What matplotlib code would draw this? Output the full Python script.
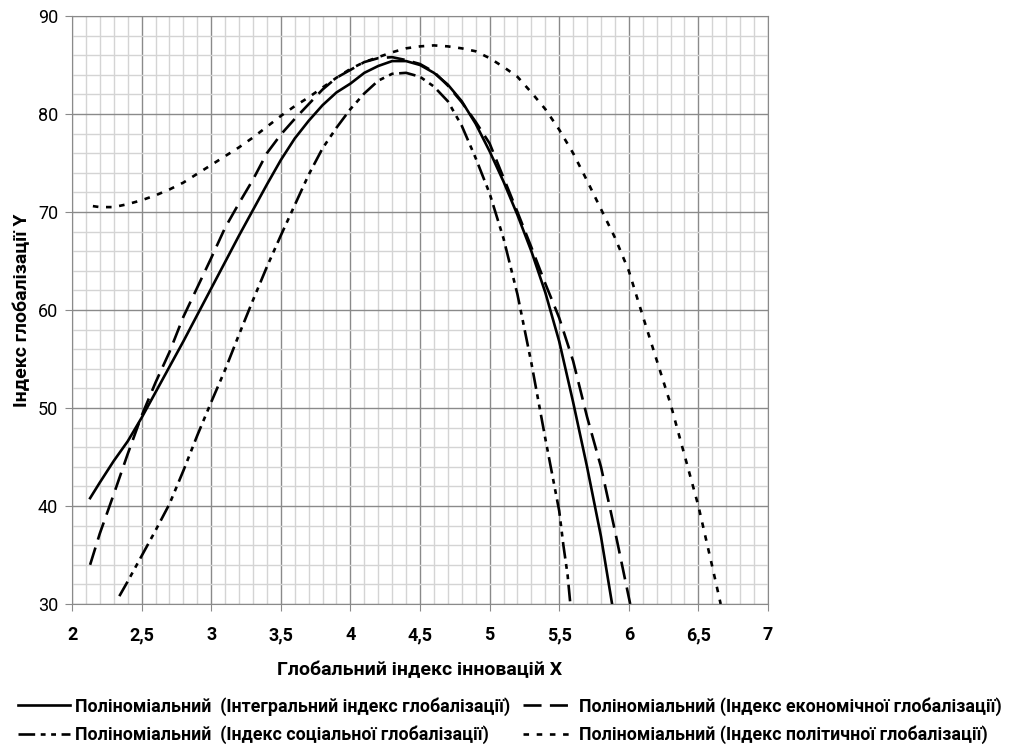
import matplotlib
matplotlib.use('Agg')
import matplotlib.pyplot as plt
from matplotlib.ticker import MultipleLocator, FixedLocator, FixedFormatter

plt.rcParams['font.family'] = ['Roboto', 'DejaVu Sans']
plt.rcParams['lines.scale_dashes'] = False

# trend curves
x_int = [2.13, 2.2, 2.3, 2.4, 2.5, 2.6, 2.7, 2.8, 2.9, 3.0, 3.1, 3.2, 3.3, 3.4, 3.5,
         3.6, 3.7, 3.8, 3.9, 4.0, 4.1, 4.2, 4.3, 4.4, 4.5, 4.6, 4.7, 4.8, 4.9, 5.0,
         5.1, 5.2, 5.3, 5.4, 5.5, 5.6, 5.7, 5.8, 5.88]
y_int = [40.8, 42.4, 44.6, 46.6, 49.0, 51.6, 54.2, 56.8, 59.5, 62.2, 64.9, 67.6, 70.2, 72.8, 75.3,
         77.5, 79.3, 80.9, 82.2, 83.1, 84.2, 84.9, 85.4, 85.4, 85.0, 84.2, 83.0, 81.3, 79.0, 76.2,
         73.1, 69.7, 66.0, 61.8, 56.8, 50.6, 44.0, 36.9, 30.0]

x_eco = [2.13, 2.2, 2.3, 2.4, 2.5, 2.6, 2.7, 2.8, 2.9, 3.0, 3.1, 3.2, 3.3, 3.4, 3.5,
         3.6, 3.7, 3.8, 3.9, 4.0, 4.1, 4.2, 4.3, 4.4, 4.5, 4.6, 4.7, 4.8, 4.9, 5.0,
         5.1, 5.2, 5.3, 5.4, 5.5, 5.6, 5.7, 5.8, 5.9, 6.01]
y_eco = [34.0, 37.2, 41.2, 45.3, 49.2, 52.6, 55.7, 59.3, 62.3, 65.3, 68.4, 70.9, 73.3, 76.0, 77.9,
         79.5, 81.0, 82.5, 83.7, 84.5, 85.3, 85.7, 85.8, 85.5, 85.1, 84.3, 82.9, 81.2, 79.2, 77.0,
         73.5, 70.0, 66.4, 62.7, 59.2, 54.8, 49.1, 44.0, 37.5, 30.0]

x_soc = [2.34, 2.4, 2.5, 2.6, 2.7, 2.8, 2.9, 3.0, 3.1, 3.2, 3.3, 3.4, 3.5, 3.6, 3.7,
         3.8, 3.9, 4.0, 4.1, 4.2, 4.3, 4.4, 4.5, 4.6, 4.7, 4.8, 4.9, 5.0, 5.1, 5.2,
         5.3, 5.4, 5.5, 5.53, 5.56, 5.58]
y_soc = [30.8, 32.3, 34.9, 37.5, 40.2, 43.6, 47.2, 50.6, 53.9, 57.5, 61.0, 64.4, 67.6, 70.7, 73.8,
         76.5, 78.6, 80.5, 82.1, 83.4, 84.1, 84.2, 83.8, 82.8, 81.3, 78.8, 75.5, 71.9, 67.3, 61.6,
         54.6, 46.9, 39.5, 36.0, 33.0, 30.0]

x_pol = [2.15, 2.2, 2.3, 2.4, 2.5, 2.6, 2.7, 2.8, 2.9, 3.0, 3.1, 3.2, 3.3, 3.4, 3.5,
         3.6, 3.7, 3.8, 3.9, 4.0, 4.1, 4.2, 4.3, 4.4, 4.5, 4.6, 4.7, 4.8, 4.9, 5.0,
         5.1, 5.2, 5.3, 5.4, 5.5, 5.6, 5.7, 5.8, 5.9, 6.0, 6.1, 6.2, 6.3, 6.4, 6.5,
         6.6, 6.66]
y_pol = [70.6, 70.5, 70.5, 70.8, 71.2, 71.7, 72.3, 73.0, 73.9, 74.8, 75.7, 76.6, 77.6, 78.7, 79.8,
         80.8, 81.7, 82.7, 83.7, 84.6, 85.3, 85.8, 86.3, 86.7, 86.9, 87.0, 86.9, 86.7, 86.4, 85.7,
         84.8, 83.8, 82.2, 80.5, 78.4, 76.0, 73.2, 70.3, 67.4, 64.0, 59.4, 54.9, 50.4, 45.2, 40.0,
         33.8, 30.0]

labels = ['Поліноміальний  (Інтегральний індекс глобалізації)',
          'Поліноміальний (Індекс економічної глобалізації)',
          'Поліноміальний  (Індекс соціальної глобалізації)',
          'Поліноміальний (Індекс політичної глобалізації)']

xticks = [2, 2.5, 3, 3.5, 4, 4.5, 5, 5.5, 6, 6.5, 7]
xtick_labels = ['2', '2,5', '3', '3,5', '4', '4,5', '5', '5,5', '6', '6,5', '7']
yticks = [30, 40, 50, 60, 70, 80, 90]

fig = plt.figure(figsize=(10.3, 7.52), dpi=100)
ax = fig.add_axes([72/1030, 1 - 604/752, (768-72)/1030, (604-16)/752])

lw = 1.9
l1, = ax.plot(x_int, y_int, color='black', lw=lw, label=labels[0])
l2, = ax.plot(x_eco, y_eco, color='black', lw=lw, dashes=(13, 6), label=labels[1])
l3, = ax.plot(x_soc, y_soc, color='black', lw=lw, dashes=(12, 4, 3.5, 4, 3.5, 4), label=labels[2])
l4, = ax.plot(x_pol, y_pol, color='black', lw=lw, dashes=(4, 5.5), label=labels[3])

ax.set_xlim(2, 7)
ax.set_ylim(30, 90)
ax.xaxis.set_major_locator(FixedLocator(xticks))
ax.xaxis.set_major_formatter(FixedFormatter(xtick_labels))
ax.set_yticks(yticks)
ax.xaxis.set_minor_locator(MultipleLocator(0.1))
ax.yaxis.set_minor_locator(MultipleLocator(2))
ax.set_axisbelow(True)
ax.grid(which='minor', color='#d4d4d4', lw=1.0)
ax.grid(which='major', color='#8a8a8a', lw=1.0)
ax.tick_params(which='minor', length=0)
ax.tick_params(which='major', length=5, color='#8a8a8a', direction='out')
ax.tick_params(axis='y', labelsize=13, pad=5)
ax.tick_params(axis='x', labelsize=13, pad=11)
for t in ax.get_xticklabels():
    t.set_fontweight('bold')
for s in ax.spines.values():
    s.set_color('#8a8a8a')

ax.set_xlabel('Глобальний індекс інновацій X', fontsize=14, fontweight='bold', labelpad=12)
ax.set_ylabel('Індекс глобалізації Y', fontsize=14, fontweight='bold', labelpad=5)

fig.legend([l1, l3, l2, l4], [labels[0], labels[2], labels[1], labels[3]],
           loc='upper left', bbox_to_anchor=(18/1030, 1 - 697/752), ncol=2,
           frameon=False, borderpad=0, borderaxespad=0, handlelength=2.9,
           handletextpad=0.3, columnspacing=0.7, labelspacing=0.55,
           prop={'weight': 'bold', 'size': 12.8})

fig.savefig('out.png', dpi=100)
